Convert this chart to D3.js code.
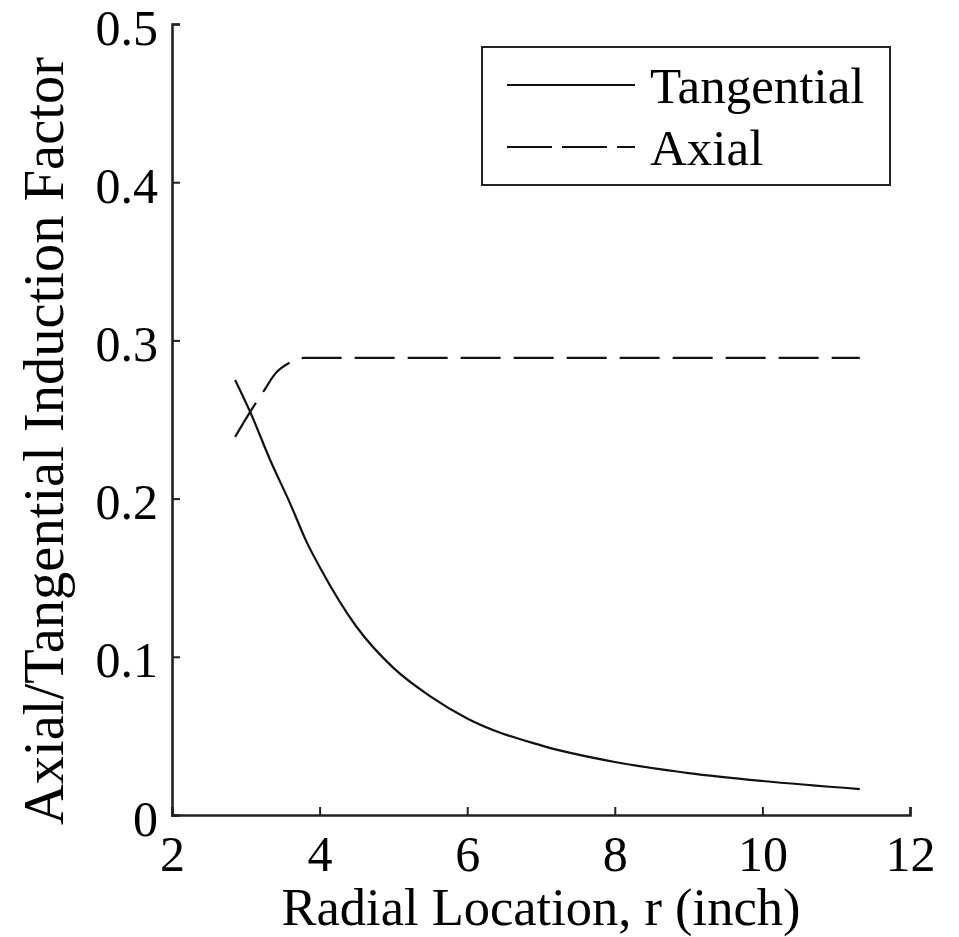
<!DOCTYPE html>
<html>
<head>
<meta charset="utf-8">
<script src="https://cdn.jsdelivr.net/npm/d3@7"></script>
<style>
  body { margin: 0; background: #fff; }
  text { font-family: "Liberation Serif", "Times New Roman", serif; fill: #000; }
</style>
</head>
<body>
<div id="chart"></div>
<script>
// values
var tangentialR = [2.855, 3.06, 3.33, 3.6, 3.83, 4.01, 4.5, 5.0, 5.5, 6.0, 7.0, 8.0, 9.0, 10.0, 11.32];
var tangentialF = [0.275, 0.2547, 0.2244, 0.197, 0.172, 0.156, 0.119, 0.093, 0.075, 0.061, 0.044, 0.0335, 0.0265, 0.0215, 0.0164];
var axialR = [2.855, 3.13, 3.23, 3.4, 3.6, 3.8, 11.32];
var axialF = [0.239, 0.260, 0.267, 0.279, 0.286, 0.289, 0.289];
var xTicks = [2, 4, 6, 8, 10, 12];
var yTicks = [0, 0.1, 0.2, 0.3, 0.4, 0.5];
var legendNames = ["Tangential", "Axial"];

var width = 959, height = 937;
var margin = {left: 172, right: 49, top: 24, bottom: 122};

var svg = d3.select("#chart").append("svg").attr("width", width).attr("height", height);

var x = d3.scaleLinear().domain([2, 12]).range([margin.left, width - margin.right]);
var y = d3.scaleLinear().domain([0, 0.5]).range([height - margin.bottom, margin.top]);

var line = d3.line()
  .x(function(d) { return x(d[0]); })
  .y(function(d) { return y(d[1]); })
  .curve(d3.curveMonotoneX);

var tang = tangentialR.map(function(r, i) { return [r, tangentialF[i]]; });
var axial = axialR.map(function(r, i) { return [r, axialF[i]]; });

svg.append("path")
  .attr("d", line(tang))
  .attr("fill", "none").attr("stroke", "#111").attr("stroke-width", 2.2);

svg.append("path")
  .attr("d", line(axial))
  .attr("fill", "none").attr("stroke", "#111").attr("stroke-width", 2.2)
  .attr("stroke-dasharray", "40,13");

// axes
var xAxis = svg.append("g")
  .attr("transform", "translate(0," + y(0) + ")")
  .call(d3.axisBottom(x).tickValues(xTicks).tickSizeInner(-8).tickSizeOuter(-8).tickPadding(20).tickFormat(d3.format("d")));
var yAxis = svg.append("g")
  .attr("transform", "translate(" + x(2) + ",0)")
  .call(d3.axisLeft(y).tickValues(yTicks).tickSizeInner(-8).tickSizeOuter(-8).tickPadding(14).tickFormat(function(d) { return d === 0 ? "0" : d3.format(".1f")(d); }));

[xAxis, yAxis].forEach(function(a) {
  a.select(".domain").attr("stroke", "#222").attr("stroke-width", 2.6);
  a.selectAll(".tick line").attr("stroke", "#222").attr("stroke-width", 2);
  a.selectAll(".tick text").style("font-family", "Liberation Serif, serif").style("font-size", "50px").attr("fill", "#000");
});
xAxis.selectAll(".tick text").attr("dy", "0.71em");
// labels sit a little below their ticks, as in the reference
yAxis.selectAll(".tick text").attr("dy", "20px");

// axis titles
svg.append("text")
  .attr("x", (x(2) + x(12)) / 2)
  .attr("y", 925)
  .attr("text-anchor", "middle")
  .style("font-size", "52.5px")
  .text("Radial Location, r (inch)");

svg.append("text")
  .attr("transform", "translate(63," + 441 + ") rotate(-90)")
  .attr("text-anchor", "middle")
  .style("font-size", "56.5px")
  .text("Axial/Tangential Induction Factor");

// legend
var legend = svg.append("g");
legend.append("rect")
  .attr("x", 482).attr("y", 47).attr("width", 408).attr("height", 138)
  .attr("fill", "#fff").attr("stroke", "#222").attr("stroke-width", 2);

legendNames.forEach(function(name, i) {
  var ly = 85 + i * 62;
  legend.append("line")
    .attr("x1", 507).attr("x2", 635).attr("y1", ly).attr("y2", ly)
    .attr("stroke", "#111").attr("stroke-width", 2.2)
    .attr("stroke-dasharray", i === 1 ? "45,10" : null);
  legend.append("text")
    .attr("x", 650).attr("y", ly + 18)
    .style("font-size", "51px")
    .text(name);
});
</script>
</body>
</html>
